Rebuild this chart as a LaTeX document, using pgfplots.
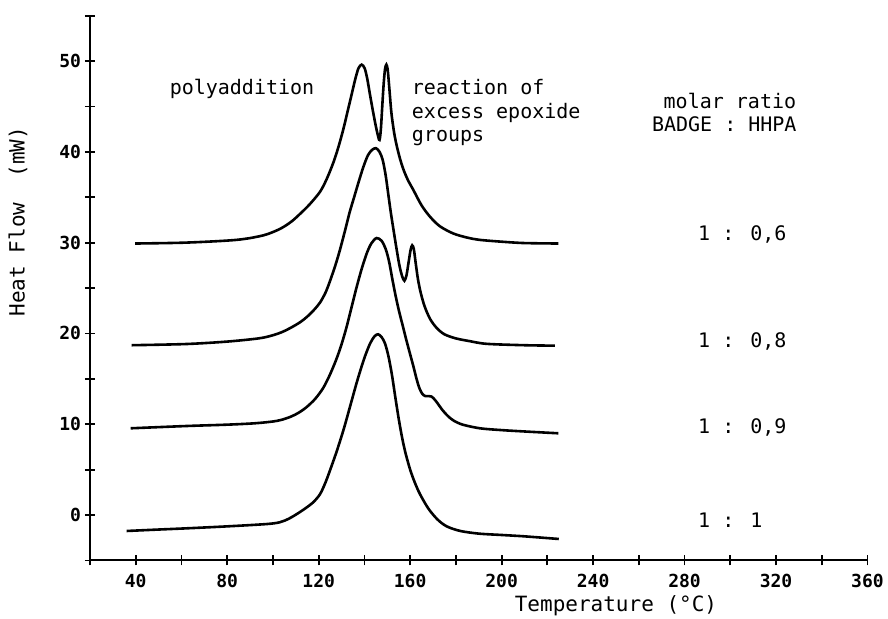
\documentclass[border=0pt]{standalone}
\usepackage{fontspec}
\setmainfont{DejaVu Sans Mono}
\newfontfamily\monof{DejaVu Sans Mono}
\usepackage{pgfplots}
\pgfplotsset{compat=1.18}
\pgfplotstableread{
T v
36 -1.76
50 -1.6
62 -1.47
80 -1.25
97 -1.0
103 -0.8
107 -0.4
110.4 0.1
114 0.7
117.6 1.4
120.6 2.3
123 3.6
125.5 5.3
128 7.1
131 9.5
134 12.2
137 14.9
140 17.3
142.5 18.9
144.5 19.7
146 19.9
147.5 19.6
149 18.9
150.5 17.5
152 15.5
153.5 13.0
155 10.6
156.5 8.5
158 6.8
160 5.0
162 3.6
164.3 2.3
168 0.7
172 -0.5
176 -1.25
181.8 -1.75
190 -2.05
200 -2.2
210 -2.35
225 -2.64
}\curveA
\pgfplotstableread{
T v
37.8 9.55
62 9.8
80 9.95
92 10.1
100 10.3
104 10.5
108 10.85
111.5 11.3
114.8 11.9
118.5 12.8
122 14.0
125 15.5
127.8 17.2
130 18.8
132.2 20.7
134.5 23.0
136.6 25.1
138.8 27.1
141 28.8
143 29.9
145.3 30.5
147.5 30.2
149.3 29.3
150.8 27.9
152.2 26.0
153.6 24.2
155 22.6
156.5 21.1
158.2 19.4
160 17.7
161.5 16.3
162.8 15.0
164 14.0
165.3 13.35
166.6 13.1
168 13.1
169.3 13.05
170.6 12.75
172 12.3
174 11.6
176.5 10.9
179 10.4
183 9.95
190.5 9.55
200 9.35
210 9.2
224.8 9.0
}\curveB
\pgfplotstableread{
T v
38.2 18.7
62 18.83
80 19.1
94 19.46
100 19.8
104 20.15
108 20.65
112 21.25
115 21.85
118 22.6
120.6 23.4
123 24.5
125 25.8
127.3 27.5
129.3 29.2
131.5 31.3
133.5 33.3
135.5 35.0
137.5 36.7
139.5 38.3
141.5 39.6
143.3 40.2
145.0 40.4
146.6 40.0
148.0 39.1
149.3 37.4
150.4 35.4
151.5 33.4
152.6 31.6
154.0 29.4
155.3 27.5
156.5 26.3
157.5 25.8
158.4 26.4
159.3 27.8
160.2 29.2
160.9 29.7
161.6 29.3
162.4 27.8
163.4 26.0
164.6 24.5
166.3 23.0
168.7 21.6
171.6 20.6
175 19.9
180 19.45
186 19.15
193.5 18.85
210 18.7
223.3 18.65
}\curveC
\pgfplotstableread{
T v
39.7 29.9
62 30.0
84 30.3
95.8 30.8
103 31.5
108 32.3
112 33.2
116 34.2
120.6 35.6
123.5 37.0
126.4 38.8
128.6 40.5
130.8 42.5
132.6 44.4
134.4 46.3
136.0 48.0
137.4 49.2
138.8 49.6
140.1 49.2
141.2 48.1
142.3 46.5
143.5 44.8
144.7 43.2
145.8 41.9
146.6 41.3
147.2 42.5
147.8 45.0
148.4 47.4
149.0 49.1
149.6 49.6
150.2 49.0
150.9 47.0
151.8 44.3
153.0 42.1
154.1 40.7
155.5 39.3
157 38.1
159 36.9
161.4 35.8
165 34.1
168.7 32.85
173 31.8
178.9 31.0
185 30.55
190.5 30.3
200 30.1
210 29.95
224.8 29.9
}\curveD
\begin{document}
\begin{tikzpicture}
\begin{axis}[
  at={(0,0)}, anchor=south west, scale only axis,
  width=388.75pt, height=272.4pt,
  xmin=20, xmax=360, ymin=-5, ymax=55,
  axis x line*=bottom, axis y line*=left,
  axis line style={line width=1pt, -},
  xtick={40,80,...,360}, minor xtick={20,60,...,340},
  ytick={0,10,...,50}, minor ytick={-5,5,...,55},
  tick align=center, major tick length=5pt, minor tick length=5pt,
  tick style={black, line width=0.9pt},
  /pgf/number format/assume math mode=true,
  tick label style={font=\monof\bfseries\fontsize{9}{10}\selectfont},
  xticklabel style={yshift=-1pt},
  yticklabel style={xshift=1.5pt},
  xlabel={Temperature (°C)},
  xlabel style={at={(axis description cs:0.6765,-0.0936)}, anchor=base, font=\monof\fontsize{10.5}{12}\selectfont},
  ylabel={Heat Flow\ \ (mW)},
  ylabel style={at={(axis description cs:-0.0926,0.622)}, anchor=center, font=\monof\fontsize{10.5}{12}\selectfont},
  clip=false,
]
\addplot[black, line width=1.3pt, smooth] table[x=T,y=v] {\curveA};
\addplot[black, line width=1.3pt, smooth] table[x=T,y=v] {\curveB};
\addplot[black, line width=1.3pt, smooth] table[x=T,y=v] {\curveC};
\addplot[black, line width=1.3pt, smooth] table[x=T,y=v] {\curveD};
\begin{scope}[every node/.style={font=\monof\fontsize{10}{12}\selectfont, inner sep=0pt}]
\node[anchor=base west] at (axis cs:54.7,46.26) {polyaddition};
\node[anchor=base west] at (axis cs:160.6,46.26) {reaction of};
\node[anchor=base west] at (axis cs:160.6,43.69) {excess epoxide};
\node[anchor=base west] at (axis cs:160.6,41.11) {groups};
\node[anchor=base west] at (axis cs:270.7,44.8) {molar ratio};
\node[anchor=base west] at (axis cs:265.6,42.2) {BADGE : HHPA};
\node[anchor=base west] at (axis cs:285.8,30.2) {1 : 0,6};
\node[anchor=base west] at (axis cs:285.8,18.4) {1 : 0,8};
\node[anchor=base west] at (axis cs:285.8,9.0) {1 : 0,9};
\node[anchor=base west] at (axis cs:285.8,-1.43) {1 : 1};
\end{scope}
\end{axis}
\pgfresetboundingbox
\path[use as bounding box] (-45pt,-28.8pt) rectangle (399pt,280.2pt);
\end{tikzpicture}
\end{document}
